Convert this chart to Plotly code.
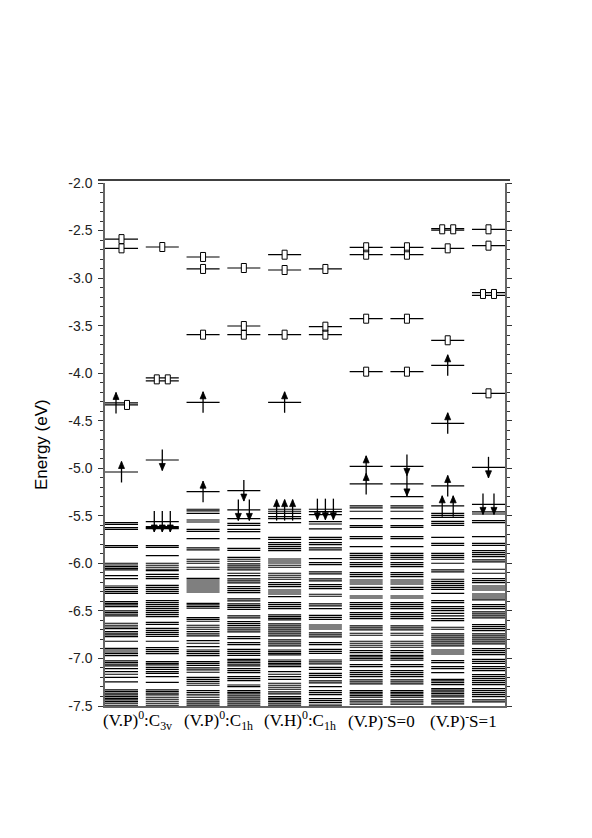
import plotly.graph_objects as go

# ---------------- data ----------------
group_labels = [
    "(V.P)<sup>0</sup>:C<sub>3v</sub>",
    "(V.P)<sup>0</sup>:C<sub>1h</sub>",
    "(V.H)<sup>0</sup>:C<sub>1h</sub>",
    "(V.P)<sup>-</sup>S=0",
    "(V.P)<sup>-</sup>S=1",
]

y_tick_vals = [-7.5, -7.0, -6.5, -6.0, -5.5, -5.0, -4.5, -4.0, -3.5, -3.0, -2.5, -2.0]
y_tick_text = ["-7.5", "-7.0", "-6.5", "-6.0", "-5.5", "-5.0", "-4.5", "-4.0", "-3.5", "-3.0", "-2.5", "-2.0"]

levels_c1 = [-2.59, -2.687, -4.313, -4.334, -5.039,
             -5.572, -5.589, -5.624, -5.642, -5.813, -5.831, -5.999, -6.017, -6.034, -6.052, -6.069,
             -6.129, -6.160, -6.238, -6.255, -6.276, -6.297, -6.315, -6.402, -6.420, -6.437, -6.455,
             -6.500, -6.518, -6.535, -6.553, -6.630, -6.651, -6.669, -6.686, -6.718, -6.735, -6.753,
             -6.770, -6.819, -6.893, -6.911, -6.932, -6.949, -6.970, -7.026, -7.044, -7.061, -7.079,
             -7.107, -7.138, -7.166, -7.198, -7.247, -7.331, -7.349, -7.366, -7.384, -7.401, -7.419,
             -7.436, -7.454, -7.471, -7.492]
levels_c2 = [-2.673, -4.05, -4.08, -4.913,
             -5.561, -5.614, -5.625, -5.635, -5.813, -5.831, -5.919, -5.999, -6.020, -6.041, -6.062,
             -6.076, -6.115, -6.139, -6.160, -6.231, -6.252, -6.273, -6.294, -6.315, -6.392, -6.413,
             -6.434, -6.455, -6.476, -6.497, -6.518, -6.539, -6.560, -6.620, -6.641, -6.683, -6.704,
             -6.725, -6.746, -6.767, -6.819, -6.886, -6.907, -6.928, -6.949, -7.033, -7.051, -7.068,
             -7.093, -7.114, -7.138, -7.156, -7.191, -7.251, -7.331, -7.349, -7.366, -7.384, -7.408,
             -7.429, -7.450, -7.471, -7.492]
levels_c3 = [-2.778, -2.904, -3.595, -4.306, -5.246,
             -5.431, -5.449, -5.474, -5.544, -5.565, -5.642, -5.663, -5.740, -5.838, -5.859, -5.957,
             -5.978, -5.999, -6.041, -6.062, -6.157, -6.175, -6.196, -6.217, -6.238, -6.259, -6.280,
             -6.301, -6.420, -6.437, -6.455, -6.472, -6.571, -6.588, -6.609, -6.651, -6.672, -6.693,
             -6.718, -6.742, -6.763, -6.812, -6.840, -6.876, -6.911, -6.928, -6.949, -6.970, -7.033,
             -7.051, -7.072, -7.100, -7.121, -7.145, -7.198, -7.219, -7.240, -7.261, -7.282, -7.338,
             -7.359, -7.384, -7.408, -7.436, -7.457, -7.478, -7.499]
levels_c4 = [-2.894, -3.504, -3.595, -5.235,
             -5.438, -5.530, -5.579, -5.600, -5.642, -5.666, -5.740, -5.842, -5.863, -5.936, -5.957,
             -5.978, -6.006, -6.027, -6.048, -6.069, -6.104, -6.129, -6.164, -6.185, -6.206, -6.245,
             -6.266, -6.287, -6.308, -6.374, -6.395, -6.427, -6.444, -6.462, -6.483, -6.553, -6.574,
             -6.613, -6.634, -6.655, -6.679, -6.700, -6.721, -6.770, -6.791, -6.833, -6.854, -6.904,
             -6.925, -6.946, -6.967, -7.009, -7.026, -7.044, -7.061, -7.079, -7.107, -7.128, -7.149,
             -7.191, -7.212, -7.233, -7.279, -7.296, -7.338, -7.356, -7.373, -7.394, -7.415, -7.436,
             -7.457, -7.478, -7.499]
levels_c5 = [-2.754, -2.915, -3.595, -4.306,
             -5.431, -5.452, -5.474, -5.509, -5.530, -5.572, -5.726, -5.747, -5.782, -5.803, -5.824,
             -5.845, -5.866, -5.954, -5.975, -5.996, -6.020, -6.041, -6.104, -6.125, -6.146, -6.167,
             -6.203, -6.224, -6.245, -6.280, -6.301, -6.322, -6.350, -6.413, -6.434, -6.455, -6.476,
             -6.542, -6.560, -6.578, -6.595, -6.637, -6.658, -6.679, -6.700, -6.721, -6.742, -6.763,
             -6.805, -6.826, -6.847, -6.868, -6.911, -6.928, -6.946, -6.963, -7.016, -7.033, -7.051,
             -7.068, -7.086, -7.138, -7.166, -7.191, -7.219, -7.261, -7.282, -7.303, -7.324, -7.352,
             -7.373, -7.401, -7.419, -7.436, -7.454, -7.471, -7.490]
levels_c6 = [-2.904, -3.511, -3.595,
             -5.431, -5.456, -5.488, -5.561, -5.586, -5.638, -5.726, -5.747, -5.782, -5.803, -5.838,
             -5.859, -5.950, -5.992, -6.013, -6.090, -6.111, -6.164, -6.185, -6.224, -6.245, -6.266,
             -6.325, -6.346, -6.427, -6.448, -6.476, -6.546, -6.567, -6.588, -6.648, -6.669, -6.690,
             -6.732, -6.753, -6.774, -6.833, -6.854, -6.904, -6.925, -6.946, -7.016, -7.037, -7.058,
             -7.093, -7.114, -7.156, -7.177, -7.198, -7.236, -7.257, -7.296, -7.338, -7.359, -7.380,
             -7.422, -7.443, -7.464, -7.490]
levels_c7 = [-2.676, -2.754, -3.427, -3.984, -4.980, -5.165,
             -5.396, -5.417, -5.452, -5.530, -5.603, -5.621, -5.719, -5.740, -5.824, -5.894, -5.915,
             -5.936, -5.957, -5.992, -6.013, -6.034, -6.097, -6.118, -6.139, -6.175, -6.196, -6.217,
             -6.252, -6.273, -6.343, -6.364, -6.413, -6.434, -6.455, -6.476, -6.518, -6.539, -6.560,
             -6.581, -6.658, -6.679, -6.700, -6.735, -6.756, -6.819, -6.840, -6.861, -6.882, -6.918,
             -6.939, -6.967, -6.984, -7.002, -7.019, -7.065, -7.086, -7.128, -7.149, -7.170, -7.191,
             -7.226, -7.247, -7.268, -7.338, -7.356, -7.373, -7.391, -7.408, -7.436, -7.457, -7.480]
levels_c8 = [-2.676, -2.754, -3.427, -3.984, -4.980, -5.165, -5.298,
             -5.396, -5.417, -5.452, -5.530, -5.603, -5.621, -5.719, -5.740, -5.824, -5.894, -5.915,
             -5.936, -5.957, -5.992, -6.013, -6.034, -6.097, -6.118, -6.139, -6.175, -6.196, -6.217,
             -6.252, -6.273, -6.343, -6.364, -6.413, -6.434, -6.455, -6.476, -6.518, -6.539, -6.560,
             -6.581, -6.658, -6.679, -6.700, -6.735, -6.756, -6.819, -6.840, -6.861, -6.882, -6.918,
             -6.939, -6.967, -6.984, -7.002, -7.019, -7.065, -7.086, -7.128, -7.149, -7.170, -7.191,
             -7.226, -7.247, -7.268, -7.338, -7.356, -7.373, -7.391, -7.408, -7.436, -7.457, -7.480]
levels_c9 = [-2.480, -2.495, -2.687, -3.654, -3.917, -4.527, -5.186,
             -5.396, -5.474, -5.495, -5.516, -5.558, -5.579, -5.600, -5.726, -5.789, -5.810, -5.894,
             -5.915, -5.936, -5.957, -5.999, -6.069, -6.090, -6.167, -6.189, -6.210, -6.231, -6.252,
             -6.273, -6.315, -6.392, -6.413, -6.455, -6.476, -6.497, -6.525, -6.553, -6.581, -6.602,
             -6.672, -6.693, -6.742, -6.763, -6.784, -6.805, -6.826, -6.847, -6.868, -6.911, -6.932,
             -6.953, -7.023, -7.044, -7.086, -7.107, -7.149, -7.219, -7.236, -7.254, -7.275, -7.317,
             -7.334, -7.352, -7.370, -7.387, -7.405, -7.436, -7.457, -7.478]
levels_c10 = [-2.487, -2.659, -3.153, -3.181, -4.212, -4.990,
              -5.379, -5.459, -5.481, -5.551, -5.572, -5.719, -5.789, -5.810, -5.866, -5.887, -5.908,
              -5.929, -5.964, -5.985, -6.062, -6.104, -6.160, -6.181, -6.203, -6.238, -6.259, -6.280,
              -6.322, -6.343, -6.364, -6.385, -6.434, -6.455, -6.476, -6.511, -6.532, -6.553, -6.574,
              -6.644, -6.665, -6.686, -6.707, -6.742, -6.763, -6.784, -6.805, -6.826, -6.847, -6.897,
              -6.918, -6.939, -6.960, -7.009, -7.030, -7.051, -7.086, -7.107, -7.128, -7.170, -7.191,
              -7.212, -7.233, -7.254, -7.275, -7.317, -7.338, -7.359, -7.380, -7.401, -7.436, -7.457]

all_levels = [levels_c1, levels_c2, levels_c3, levels_c4, levels_c5,
              levels_c6, levels_c7, levels_c8, levels_c9, levels_c10]

# occupied states (arrows): column index, energy, spin, number of electrons drawn
occ_col = [0, 0, 1, 1, 2, 2, 3, 3, 4, 4, 5, 6, 6, 7, 7, 8, 8, 8, 8, 9, 9]
occ_E = [-4.313, -5.039, -4.913, -5.56, -4.306, -5.246, -5.235, -5.438, -4.306, -5.44,
         -5.43, -4.98, -5.165, -4.965, -5.18, -3.917, -4.527, -5.186, -5.40, -4.99, -5.375]
occ_spin = ["up", "up", "down", "down", "up", "up", "down", "down", "up", "up",
            "down", "up", "up", "down", "down", "up", "up", "up", "up", "down", "down"]
occ_n = [1, 1, 1, 3, 1, 1, 1, 2, 1, 3, 3, 1, 1, 1, 1, 1, 1, 1, 2, 1, 2]

# empty states (boxes): column index, energy, number of boxes
emp_col = [0, 0, 0, 1, 1, 2, 2, 2, 3, 3, 3, 4, 4, 4, 5, 5, 5,
           6, 6, 6, 6, 7, 7, 7, 7, 8, 8, 8, 9, 9, 9, 9]
emp_E = [-2.59, -2.687, -4.334, -2.673, -4.065, -2.778, -2.904, -3.595, -2.894, -3.504, -3.595,
         -2.754, -2.915, -3.595, -2.904, -3.511, -3.595,
         -2.676, -2.754, -3.427, -3.984, -2.676, -2.754, -3.427, -3.984,
         -2.487, -2.687, -3.654, -2.487, -2.659, -3.167, -4.212]
emp_n = [1, 1, 1, 1, 2, 1, 1, 1, 1, 1, 1, 1, 1, 1, 1, 1, 1,
         1, 1, 1, 1, 1, 1, 1, 1, 2, 1, 1, 1, 1, 2, 1]

# ---------------- geometry (drawing constants) ----------------
X_MAX = 9.81
COL_W = 0.81
PLOT_W_PX = 400.0
PLOT_H_PX = 523.0
Y_MIN, Y_MAX = -7.5, -2.0
PX_X = PLOT_W_PX / X_MAX                # px per x unit
PX_Y = PLOT_H_PX / (Y_MAX - Y_MIN)      # px per eV


def dx(px):
    return px / PX_X


def dy(px):
    return px / PX_Y


def col_center(c):
    return c + COL_W / 2.0


# level lines
lx, ly = [], []
for c, lev in enumerate(all_levels):
    for e in lev:
        lx += [c, c + COL_W, None]
        ly += [e, e, None]

# markers, grouped per column by energy proximity
items = {}
for c, e, s, n in zip(occ_col, occ_E, occ_spin, occ_n):
    items.setdefault(c, []).append([e, s, n])
for c, e, n in zip(emp_col, emp_E, emp_n):
    items.setdefault(c, []).append([e, "box", n])

box_x, box_y = [], []
shaft_x, shaft_y = [], []
head_x, head_y = [], []

for c, lst in items.items():
    lst.sort(key=lambda t: (-t[0]))
    groups = []
    for it in lst:
        if groups and abs(groups[-1][-1][0] - it[0]) < 0.04:
            groups[-1].append(it)
        else:
            groups.append([it])
    for g in groups:
        g.sort(key=lambda t: 0 if t[1] != "box" else 1)
        slots = []
        for e, kind, n in g:
            for _ in range(n):
                slots.append((e, kind))
        k = len(slots)
        spacing = 11.0 if k <= 2 else 8.0
        for j, (e, kind) in enumerate(slots):
            x = col_center(c) + dx((j - (k - 1) / 2.0) * spacing)
            if kind == "box":
                hw, hh = dx(2.5), dy(4.5)
                box_x += [x - hw, x + hw, x + hw, x - hw, x - hw, None]
                box_y += [e - hh, e - hh, e + hh, e + hh, e - hh, None]
            else:
                half = dy(10.5)
                shaft_x += [x, x, None]
                shaft_y += [e - half, e + half, None]
                hw, hl = dx(3.0), dy(7.0)
                if kind == "up":
                    tip = e + half
                    head_x += [x - hw, x + hw, x, x - hw, None]
                    head_y += [tip - hl, tip - hl, tip, tip - hl, None]
                else:
                    tip = e - half
                    head_x += [x - hw, x + hw, x, x - hw, None]
                    head_y += [tip + hl, tip + hl, tip, tip + hl, None]

fig = go.Figure()
fig.add_trace(go.Scatter(x=lx, y=ly, mode="lines", line=dict(color="black", width=1.2),
                         hoverinfo="skip", showlegend=False))
fig.add_trace(go.Scatter(x=box_x, y=box_y, mode="lines", fill="toself", fillcolor="white",
                         line=dict(color="black", width=1), hoverinfo="skip", showlegend=False))
fig.add_trace(go.Scatter(x=shaft_x, y=shaft_y, mode="lines", line=dict(color="black", width=1.3),
                         hoverinfo="skip", showlegend=False))
fig.add_trace(go.Scatter(x=head_x, y=head_y, mode="lines", fill="toself", fillcolor="black",
                         line=dict(color="black", width=0.8), hoverinfo="skip", showlegend=False))

# group labels
for k, lab in enumerate(group_labels):
    fig.add_annotation(x=2 * k + (1 + COL_W) / 2.0 - 0.12, y=-14.0 / PLOT_H_PX, xref="x", yref="paper",
                       text=lab, showarrow=False, xanchor="center", yanchor="middle",
                       font=dict(family="Liberation Serif, Times New Roman, serif", size=17, color="black"))

# y title
fig.add_annotation(x=-63.5 / PLOT_W_PX, y=0.5, xref="paper", yref="paper", text="Energy (eV)",
                   textangle=-90, showarrow=False, xanchor="center", yanchor="middle",
                   font=dict(family="Liberation Sans, Arial, sans-serif", size=17, color="black"))

# top frame line
fig.add_shape(type="line", xref="paper", yref="paper", x0=-7 / PLOT_W_PX, x1=1 + 5 / PLOT_W_PX,
              y0=1 + 3 / PLOT_H_PX, y1=1 + 3 / PLOT_H_PX, line=dict(color="black", width=1.5))

fig.update_layout(
    width=584, height=830,
    margin=dict(l=97, r=87, t=175, b=132),
    paper_bgcolor="white", plot_bgcolor="white",
    xaxis=dict(range=[0, X_MAX], showticklabels=False, ticks="", showgrid=False, zeroline=False,
               showline=True, linecolor="#666", linewidth=1.5),
    yaxis=dict(range=[Y_MIN, Y_MAX], tickvals=y_tick_vals, ticktext=y_tick_text,
               ticks="outside", ticklen=5, tickwidth=1, tickcolor="#333",
               minor=dict(dtick=0.1, ticks="outside", ticklen=3, tickcolor="#333", showgrid=False),
               showgrid=False, zeroline=False, showline=True, linecolor="#666", linewidth=1.5,
               mirror="ticks", ticklabelstandoff=3,
               tickfont=dict(family="Liberation Sans, Arial, sans-serif", size=14, color="#222")),
)

fig.write_html("out.html")
